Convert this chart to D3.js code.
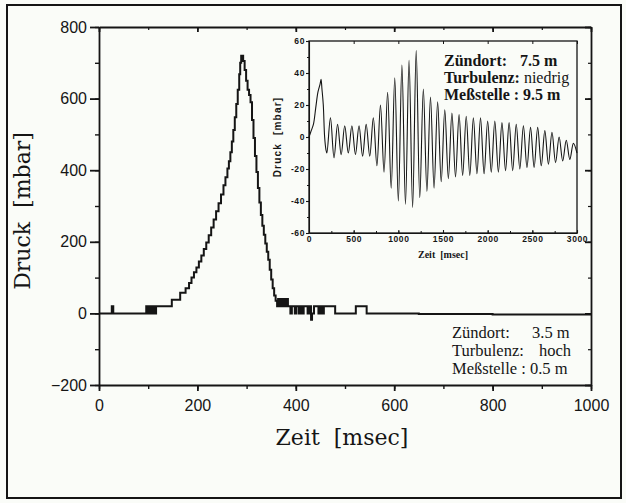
<!DOCTYPE html>
<html><head><meta charset="utf-8">
<script src="https://cdn.jsdelivr.net/npm/d3@7"></script>
<style>body{margin:0;background:#fafcf8} svg{display:block}</style>
</head><body><svg id="c" width="626" height="503"></svg>
<script>
// ---- main series: Zündort 3.5 m, Turbulenz hoch, Meßstelle 0.5 m ----
const mainTime = [0,26,29,96,98,100,102,104,106,108,110,112,114,116,148,165,176,183,188,193,198,203,208,213,218,223,228,233,238,243,248,253,257,261,264,267,270,273,276,279,282,285,287,289,293,296,299,302,305,308,311,314,317,320,323,326,329,332,335,338,341,344,347,350,353,356,359,362,364,366,368,370,372,374,376,378,381,384,389,392,398,401,406,408,410,412,414,416,424,427,431,433,437,446,449,451,453,455,457,480,522,544,650,800,1000];
const mainPressure = [0,20,0,20,0,20,0,20,0,20,0,20,0,20,38,58,70,85,100,115,128,145,162,180,198,218,240,262,285,308,332,358,380,405,425,450,480,512,548,585,625,668,700,720,705,680,650,625,610,590,540,490,440,395,350,310,275,245,220,195,172,150,122,95,70,50,35,20,40,20,40,20,40,20,40,20,40,20,0,20,0,20,0,20,0,20,0,20,0,20,-18,0,20,0,20,0,20,0,20,0,20,0,-2,-3,-5];
const mainXTicks = [0,200,400,600,800,1000];
const mainYTicks = [-200,0,200,400,600,800];

// ---- inset series: Zündort 7.5 m, Turbulenz niedrig, Meßstelle 9.5 m ----
const insetTime = [0,25,50,75,100,124,135,145,160,175,190,200,240,280,320,360,400,440,480,520,560,600,640,680,720,760,800,840,880,920,960,1000,1040,1080,1120,1160,1200,1240,1280,1320,1360,1400,1440,1480,1520,1560,1600,1640,1680,1720,1760,1800,1840,1880,1920,1960,2000,2040,2080,2120,2160,2200,2240,2280,2320,2360,2400,2440,2480,2520,2560,2600,2640,2680,2720,2760,2800,2840,2880,2920,2960,3000];
const insetPressure = [0,4,8,18,28,33,36,30,20,0,-8,-10,12,-13,8,-11,7,-10,7,-11,7,-12,8,-12,12,-18,20,-22,28,-32,37,-40,45,-42,48,-44,54,-38,30,-34,25,-32,22,-28,17,-26,15,-25,14,-24,13,-24,12,-23,12,-23,10,-22,10,-22,9,-21,9,-21,8,-20,7,-19,6,-19,6,-18,4,-17,3,-16,0,-15,-2,-14,-4,-10];
const insetXTicks = [0,500,1000,1500,2000,2500,3000];
const insetYTicks = [-60,-40,-20,0,20,40,60];

const insetNote = [["Zündort:", "7.5 m"], ["Turbulenz:", "niedrig"], ["Meßstelle : 9.5 m", ""]];
const mainNote = [["Zündort:", "3.5 m"], ["Turbulenz:", "hoch"], ["Meßstelle : 0.5 m", ""]];
const mainXLabel = "Zeit  [msec]", mainYLabel = "Druck  [mbar]";
const insetXLabel = "Zeit  [msec]", insetYLabel = "Druck  [mbar]";

const svg = d3.select("#c");
const ink = "#151515";
const fmt = d => d < 0 ? "\u2212" + Math.abs(d) : String(d);
const fmtSmall = d => String(d);

// outer frame
svg.append("rect").attr("x",7).attr("y",5).attr("width",614).attr("height",493)
  .attr("fill","none").attr("stroke",ink).attr("stroke-width",2);

// ---- main chart ----
const x = d3.scaleLinear().domain([0,1000]).range([99,591]);
const y = d3.scaleLinear().domain([-200,800]).range([385,27]);
const minorY = d3.range(-200,801,100), minorX = d3.range(0,1001,100);

function styleAxis(g, sw){
  g.selectAll("path.domain").attr("stroke",ink).attr("stroke-width",sw);
  g.selectAll(".tick line").attr("stroke",ink).attr("stroke-width",sw);
}
const mainFont = "'Liberation Sans', Arial, sans-serif";

// left axis
let g = svg.append("g").attr("transform",`translate(${x(0)},0)`)
  .call(d3.axisLeft(y).tickValues(mainYTicks).tickSize(9).tickSizeOuter(0).tickPadding(3).tickFormat(fmt));
styleAxis(g,1.8);
g.selectAll("text").attr("font-family",mainFont).attr("font-size",16).attr("fill",ink);
g = svg.append("g").attr("transform",`translate(${x(0)},0)`)
  .call(d3.axisLeft(y).tickValues(minorY).tickSize(4).tickFormat(""));
styleAxis(g,1.4); g.select("path.domain").remove();

// bottom axis
g = svg.append("g").attr("transform",`translate(0,${y(-200)})`)
  .call(d3.axisBottom(x).tickValues(mainXTicks).tickSize(6).tickSizeOuter(0).tickPadding(9).tickFormat(fmt));
styleAxis(g,1.8);
g.selectAll("text").attr("font-family",mainFont).attr("font-size",16).attr("fill",ink);
g = svg.append("g").attr("transform",`translate(0,${y(-200)})`)
  .call(d3.axisBottom(x).tickValues(minorX).tickSize(4).tickFormat(""));
styleAxis(g,1.4); g.select("path.domain").remove();

// top border, inward ticks
g = svg.append("g").attr("transform",`translate(0,${y(800)})`)
  .call(d3.axisBottom(x).tickValues(mainXTicks).tickSize(5).tickSizeOuter(0).tickFormat(""));
styleAxis(g,1.8);
g = svg.append("g").attr("transform",`translate(0,${y(800)})`)
  .call(d3.axisBottom(x).tickValues(minorX).tickSize(3).tickFormat(""));
styleAxis(g,1.2); g.select("path.domain").remove();

// right border, inward ticks
g = svg.append("g").attr("transform",`translate(${x(1000)},0)`)
  .call(d3.axisLeft(y).tickValues(mainYTicks).tickSize(6).tickSizeOuter(0).tickFormat(""));
styleAxis(g,1.8);
g = svg.append("g").attr("transform",`translate(${x(1000)},0)`)
  .call(d3.axisLeft(y).tickValues(minorY).tickSize(3).tickFormat(""));
styleAxis(g,1.2); g.select("path.domain").remove();

// main line
const mainData = mainTime.map((t,i)=>({t, p: mainPressure[i]}));
svg.append("path").datum(mainData)
  .attr("fill","none").attr("stroke",ink).attr("stroke-width",2).attr("stroke-linejoin","miter")
  .attr("d", d3.line().x(d=>x(d.t)).y(d=>y(d.p)).curve(d3.curveStepAfter));

// axis titles
const serif = "'DejaVu Serif', serif";
svg.append("text").attr("x",(x(0)+x(1000))/2 - 3).attr("y",445).attr("text-anchor","middle")
  .attr("font-family",serif).attr("font-size",22).attr("fill",ink)
  .attr("xml:space","preserve").style("white-space","pre").text(mainXLabel);
svg.append("text").attr("transform","translate(30,211) rotate(-90)").attr("text-anchor","middle")
  .attr("font-family",serif).attr("font-size",22).attr("fill",ink)
  .attr("xml:space","preserve").style("white-space","pre").text(mainYLabel);

// main annotation
const noteFont = "'Liberation Serif', 'Times New Roman', serif";
const mn = svg.append("g").attr("font-family",noteFont).attr("font-size",16.5).attr("fill",ink);
const mnY = [338,356,374], mnX2 = [532,539,0];
mainNote.forEach((l,i)=>{
  const t = mn.append("text").attr("y",mnY[i]);
  t.append("tspan").attr("x",452).text(l[0]);
  if(l[1]) t.append("tspan").attr("x",mnX2[i]).text(l[1]);
});

// ---- inset ----
const ix = d3.scaleLinear().domain([0,3000]).range([309,577]);
const iy = d3.scaleLinear().domain([-60,60]).range([233,41]);
svg.append("rect").attr("x",ix(0)).attr("y",iy(60)).attr("width",ix(3000)-ix(0)).attr("height",iy(-60)-iy(60))
  .attr("fill","none").attr("stroke",ink).attr("stroke-width",1.3);
const smallFont = "'Liberation Sans', Arial, sans-serif";
g = svg.append("g").attr("transform",`translate(${ix(0)},0)`)
  .call(d3.axisLeft(iy).tickValues(insetYTicks).tickSize(3).tickPadding(1).tickSizeOuter(0).tickFormat(fmtSmall));
styleAxis(g,1.1);
g.selectAll("text").attr("font-family",smallFont).attr("font-weight","bold").attr("font-size",8.5)
  .attr("letter-spacing",0.6).attr("fill",ink);
g = svg.append("g").attr("transform",`translate(${ix(0)},0)`)
  .call(d3.axisLeft(iy).tickValues(d3.range(-60,61,10)).tickSize(2).tickFormat(""));
styleAxis(g,1); g.select("path.domain").remove();

g = svg.append("g").attr("transform",`translate(0,${iy(-60)})`)
  .call(d3.axisBottom(ix).tickValues(insetXTicks).tickSizeInner(-3).tickSizeOuter(0).tickPadding(3).tickFormat(fmtSmall));
styleAxis(g,1.1);
g.selectAll("text").attr("font-family",smallFont).attr("font-weight","bold").attr("font-size",8.5)
  .attr("letter-spacing",0.6).attr("fill",ink);
g = svg.append("g").attr("transform",`translate(0,${iy(-60)})`)
  .call(d3.axisBottom(ix).tickValues(d3.range(0,3001,250)).tickSizeInner(-2).tickFormat(""));
styleAxis(g,1); g.select("path.domain").remove();
g = svg.append("g").attr("transform",`translate(0,${iy(60)})`)
  .call(d3.axisBottom(ix).tickValues(insetXTicks).tickSize(3).tickFormat(""));
styleAxis(g,1); g.select("path.domain").remove();

const insetData = insetTime.map((t,i)=>({t, p: insetPressure[i]}));
svg.append("path").datum(insetData)
  .attr("fill","none").attr("stroke",ink).attr("stroke-width",1.1)
  .attr("d", d3.line().x(d=>ix(d.t)).y(d=>iy(d.p)).curve(d3.curveCatmullRom));

svg.append("text").attr("x",(ix(0)+ix(3000))/2).attr("y",258).attr("text-anchor","middle")
  .attr("font-family",noteFont).attr("font-weight","bold").attr("font-size",10).attr("fill",ink)
  .attr("xml:space","preserve").style("white-space","pre").text(insetXLabel);
svg.append("text").attr("transform","translate(281,137) rotate(-90)").attr("text-anchor","middle")
  .attr("font-family",smallFont).attr("font-weight","bold").attr("font-size",10).attr("letter-spacing",1.2)
  .attr("fill",ink).attr("xml:space","preserve").style("white-space","pre").text(insetYLabel);

const inn = svg.append("g").attr("font-family",noteFont).attr("font-size",16).attr("fill",ink);
const inY = [66,83,100], inX2 = [520,0,0];
insetNote.forEach((l,i)=>{
  const t = inn.append("text").attr("y",inY[i]).attr("font-weight","bold");
  t.append("tspan").attr("x",444).text(l[0]);
  if(l[1]){
    if(inX2[i]) t.append("tspan").attr("x",inX2[i]).text(l[1]);
    else t.append("tspan").attr("dx",4).attr("font-weight","normal").text(l[1]);
  }
});
</script></body></html>
